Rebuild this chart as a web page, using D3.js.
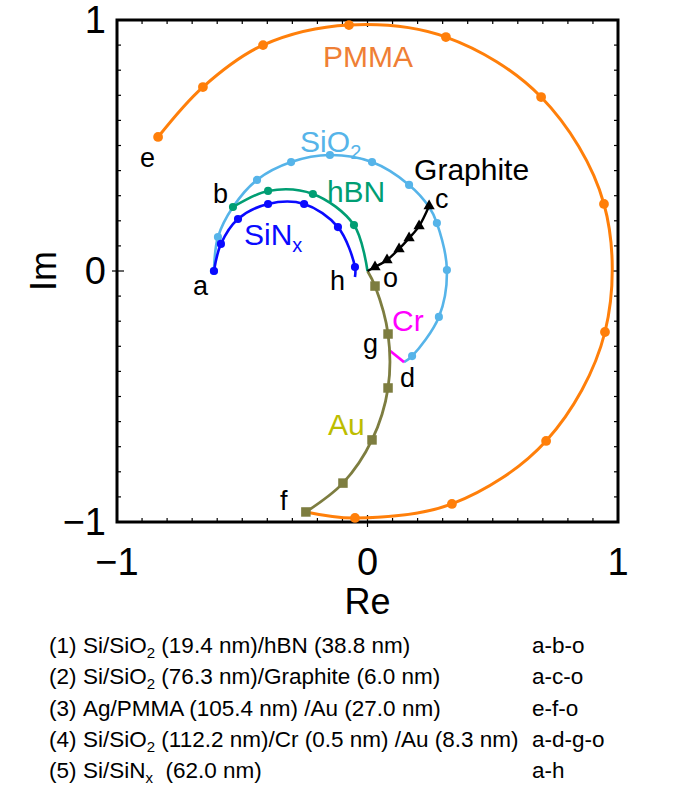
<!DOCTYPE html>
<html>
<head>
<meta charset="utf-8">
<script src="https://cdn.jsdelivr.net/npm/d3@7"></script>
<style>
  body { margin: 0; background: #fff; }
  text { font-family: "Liberation Sans", Arial, sans-serif; }
</style>
</head>
<body>
<div id="root"></div>
<script>
// reflection coefficient traces, [Re, Im, hasMarker]
const pmma = [
  [-0.836, 0.534, 1], [-0.657, 0.733, 1], [-0.417, 0.900, 1], [-0.074, 0.980, 1],
  [0.313, 0.932, 1], [0.693, 0.693, 1], [0.944, 0.267, 1], [0.948, -0.243, 1],
  [0.713, -0.677, 1], [0.337, -0.928, 1], [-0.050, -0.984, 1], [-0.246, -0.960, 0],
];
const sio2 = [
  [-0.613, 0.000, 1], [-0.597, 0.135, 1], [-0.537, 0.255, 0], [-0.441, 0.363, 1],
  [-0.305, 0.434, 1], [-0.150, 0.462, 1], [0.018, 0.434, 1], [0.166, 0.343, 1],
  [0.246, 0.255, 0], [0.277, 0.191, 1], [0.317, 0.004, 1], [0.285, -0.183, 1],
  [0.178, -0.339, 1], [0.146, -0.363, 0],
];
const hbn = [
  [-0.537, 0.255, 1], [-0.397, 0.319, 1], [-0.218, 0.307, 1], [-0.054, 0.183, 1],
  [0.000, 0.000, 0],
];
const sinx = [
  [-0.613, 0.000, 1], [-0.585, 0.108, 1], [-0.517, 0.207, 1], [-0.397, 0.267, 1],
  [-0.253, 0.267, 1], [-0.118, 0.175, 1], [-0.050, 0.016, 1], [-0.050, -0.024, 0],
];
const graphite = [
  [0.246, 0.259, 1], [0.206, 0.179, 1], [0.166, 0.131, 1], [0.126, 0.088, 1],
  [0.078, 0.044, 1], [0.030, 0.016, 1], [0.000, 0.000, 0],
];
const cr = [[0.146, -0.363, 0], [0.086, -0.315, 0]];
const au = [
  [-0.246, -0.960, 1], [-0.098, -0.845, 1], [0.018, -0.673, 1], [0.082, -0.466, 1],
  [0.082, -0.251, 1], [0.030, -0.060, 1], [0.000, 0.000, 0],
];

const xTicks = [-1, 0, 1];
const yTicks = [-1, 0, 1];

// curve names and point letters
const names = [
  { t: "PMMA", re: -0.178, im: 0.813, c: "#ef7f35" },
  { t: "SiO", sub: "2", re: -0.269, im: 0.474, c: "#56b4e9" },
  { t: "hBN", re: -0.162, im: 0.275, c: "#009e73" },
  { t: "SiN", sub: "x", re: -0.493, im: 0.104, c: "#0a0aff" },
  { t: "Graphite", re: 0.186, im: 0.363, c: "#000" },
  { t: "Cr", re: 0.098, im: -0.239, c: "#ff00ff" },
  { t: "Au", re: -0.158, im: -0.653, c: "#bdbd00" },
];
const letters = [
  ["a", -0.697, -0.096], ["b", -0.617, 0.271], ["c", 0.269, 0.251], ["d", 0.130, -0.462],
  ["e", -0.908, 0.414], ["f", -0.349, -0.952], ["g", -0.018, -0.327], ["h", -0.150, -0.076],
  ["o", 0.062, -0.064],
];

const legendRows = [
  ["(1)", [["Si/SiO"], ["2", 1], [" (19.4 nm)/hBN (38.8 nm)"]], "a-b-o"],
  ["(2)", [["Si/SiO"], ["2", 1], [" (76.3 nm)/Graphite (6.0 nm)"]], "a-c-o"],
  ["(3)", [["Ag/PMMA (105.4 nm) /Au (27.0 nm)"]], "e-f-o"],
  ["(4)", [["Si/SiO"], ["2", 1], [" (112.2 nm)/Cr (0.5 nm) /Au (8.3 nm)"]], "a-d-g-o"],
  ["(5)", [["Si/SiN"], ["x", 1], ["  (62.0 nm)"]], "a-h"],
];

const W = 686, H = 788;
const L = 117, R = 618, T = 20, B = 522;

const svg = d3.select("#root").append("svg").attr("width", W).attr("height", H);

const x = d3.scaleLinear().domain([-1, 1]).range([L, R]);
const y = d3.scaleLinear().domain([-1, 1]).range([B, T]);

// minor / major ticks, all four sides, pointing in
const minor = d3.range(-9, 10).map(d => d / 10).filter(d => d !== 0);
const tk = svg.append("g").attr("stroke", "#000").attr("stroke-width", 1.2);
minor.forEach(v => {
  tk.append("line").attr("x1", x(v)).attr("x2", x(v)).attr("y1", B).attr("y2", B - 4);
  tk.append("line").attr("x1", x(v)).attr("x2", x(v)).attr("y1", T).attr("y2", T + 4);
  tk.append("line").attr("y1", y(v)).attr("y2", y(v)).attr("x1", L).attr("x2", L + 4);
  tk.append("line").attr("y1", y(v)).attr("y2", y(v)).attr("x1", R).attr("x2", R - 4);
});
tk.append("line").attr("x1", x(0)).attr("x2", x(0)).attr("y1", B + 5).attr("y2", B - 7);
tk.append("line").attr("x1", x(0)).attr("x2", x(0)).attr("y1", T).attr("y2", T + 7);
tk.append("line").attr("y1", y(0)).attr("y2", y(0)).attr("x1", L - 5).attr("x2", L + 7);
tk.append("line").attr("y1", y(0)).attr("y2", y(0)).attr("x1", R).attr("x2", R - 7);

svg.append("rect").attr("x", L).attr("y", T).attr("width", R - L).attr("height", B - T)
  .attr("fill", "none").attr("stroke", "#000").attr("stroke-width", 3);

// tick labels
svg.append("g").selectAll("text").data(xTicks).join("text")
  .attr("x", d => x(d)).attr("y", 575).attr("text-anchor", "middle")
  .attr("font-size", 38).text(d => d < 0 ? "\u2212" + Math.abs(d) : d);
svg.append("g").selectAll("text").data(yTicks).join("text")
  .attr("x", 106).attr("y", d => y(d) + 13).attr("text-anchor", "end")
  .attr("font-size", 38).text(d => d < 0 ? "\u2212" + Math.abs(d) : d);

svg.append("text").attr("x", x(0)).attr("y", 614).attr("text-anchor", "middle")
  .attr("font-size", 36).text("Re");
svg.append("text").attr("transform", `translate(56,${y(0)}) rotate(-90)`)
  .attr("text-anchor", "middle").attr("font-size", 36).text("Im");

const line = d3.line().x(d => x(d[0])).y(d => y(d[1])).curve(d3.curveCatmullRom.alpha(0.5));

const plot = svg.append("g");
function trace(data, color, width, marker, size) {
  plot.append("path").datum(data).attr("d", line).attr("fill", "none")
    .attr("stroke", color).attr("stroke-width", width);
  const sym = d3.symbol().type(marker).size(size);
  plot.append("g").selectAll("path").data(data.filter(d => d[2])).join("path")
    .attr("transform", d => `translate(${x(d[0])},${y(d[1])})`)
    .attr("d", sym).attr("fill", color);
}

trace(pmma, "#ff7f0a", 3, d3.symbolCircle, 75);
trace(sio2, "#56b4e9", 2.6, d3.symbolCircle, 52);
trace(cr, "#ff00ff", 2.6, d3.symbolCircle, 0);
trace(au, "#7d7d40", 2.8, d3.symbolSquare, 90);
trace(sinx, "#0a0aff", 2.6, d3.symbolCircle, 52);
trace(hbn, "#009e73", 2.6, d3.symbolCircle, 52);
trace(graphite, "#000", 2.4, d3.symbolTriangle, 55);

// annotations
names.forEach(n => {
  const t = svg.append("text").attr("x", x(n.re)).attr("y", y(n.im))
    .attr("font-size", 30).attr("fill", n.c).text(n.t);
  if (n.sub) t.append("tspan").attr("dy", 7).attr("font-size", 20).text(n.sub);
});
svg.append("g").selectAll("text").data(letters).join("text")
  .attr("x", d => x(d[1])).attr("y", d => y(d[2]))
  .attr("font-size", 27).text(d => d[0]);

// legend
const lg = svg.append("g").attr("font-size", 22.5)
  .style("font-family", '"Liberation Sans Narrow", "Liberation Sans", sans-serif');
legendRows.forEach((r, i) => {
  const by = 653 + i * 31.3;
  lg.append("text").attr("x", 49).attr("y", by).text(r[0]);
  const t = lg.append("text").attr("x", 83).attr("y", by).attr("xml:space", "preserve");
  r[1].forEach(p => {
    const s = t.append("tspan").text(p[0]);
    if (p[1]) s.attr("font-size", 15).attr("dy", 5);
    else if (t.selectAll("tspan").size() > 1) s.attr("dy", -5);
  });
  lg.append("text").attr("x", 532).attr("y", by).text(r[2]);
});
</script>
</body>
</html>
